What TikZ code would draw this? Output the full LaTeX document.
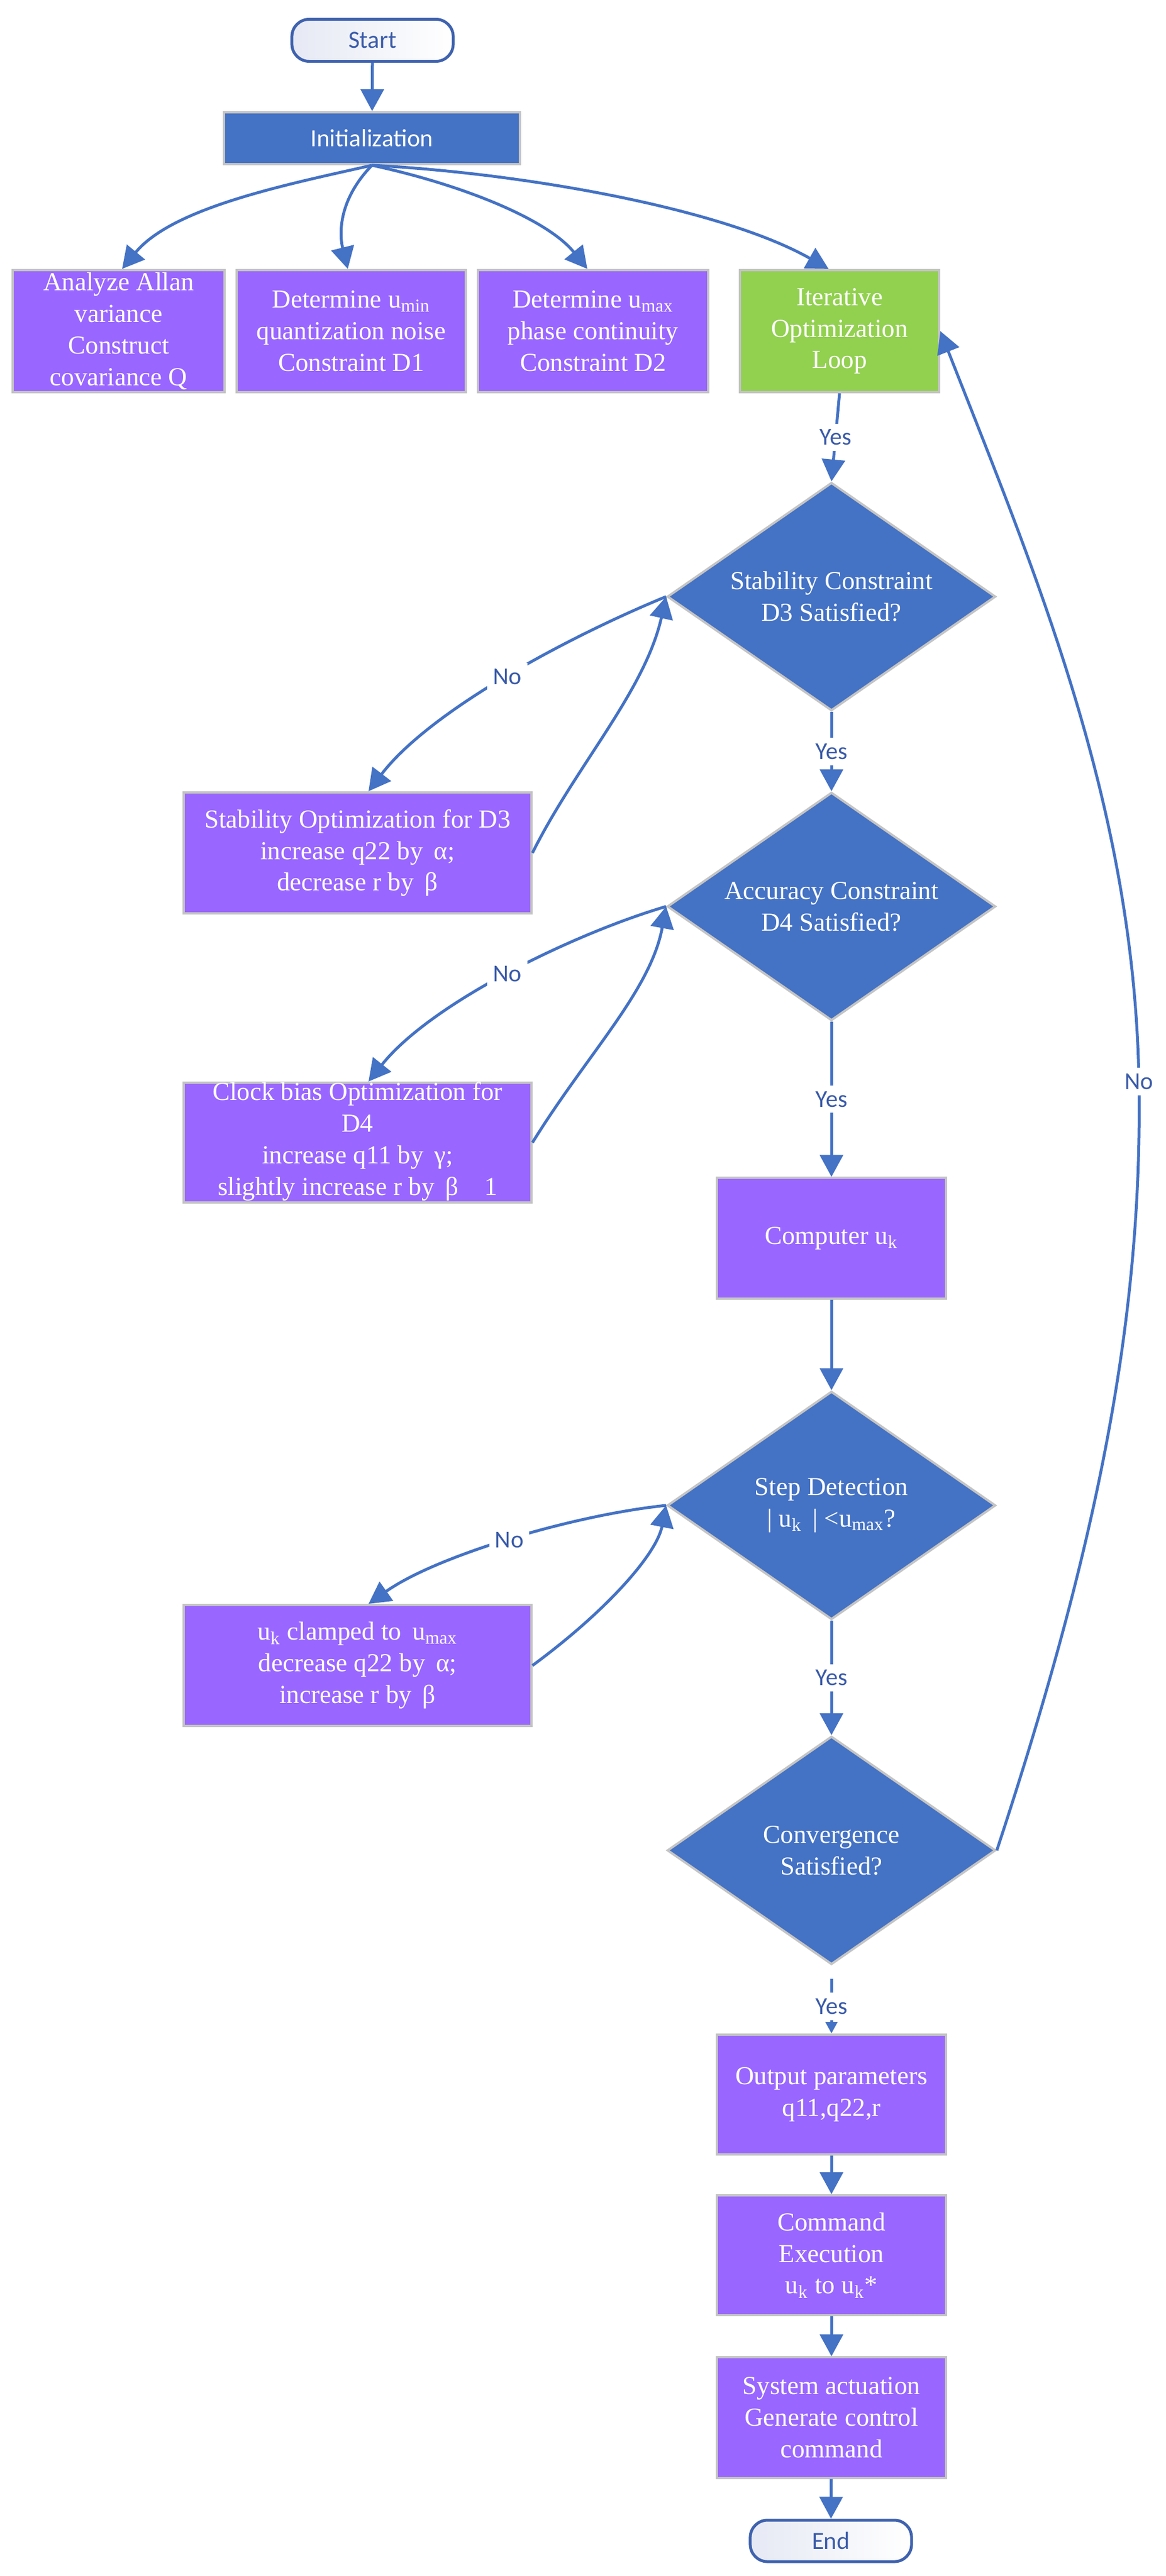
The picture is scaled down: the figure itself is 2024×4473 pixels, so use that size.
\documentclass[tikz,border=0pt]{standalone}
\usepackage{fontspec}
\setmainfont{Liberation Serif}
\newfontfamily\carlito{Carlito}
\usetikzlibrary{shapes.geometric,arrows.meta,calc}
\definecolor{cblue}{HTML}{4472C4}
\definecolor{cpurple}{HTML}{9966FF}
\definecolor{cgreen}{HTML}{92D050}
\definecolor{cgray}{HTML}{C4C4C4}
\definecolor{ctext}{HTML}{3A5BA9}
\definecolor{cstart}{HTML}{3F62AE}
\definecolor{cshade}{HTML}{E6E9F4}
\begin{document}
\begin{tikzpicture}[x=0.01cm,y=-0.01cm,
  boxfont/.style={font=\fontsize{12.8}{15.6}\selectfont},
  box/.style={rectangle, draw=cgray, line width=0.04cm, fill=cpurple, text=white, align=center, boxfont, inner sep=0pt},
  boxtext/.style={text=white, align=center, boxfont, inner sep=0pt},
  dia/.style={diamond, draw=cgray, line width=0.04cm, fill=cblue, text=white, align=center, boxfont, aspect=1.44, inner sep=0pt, minimum width=5.7cm, minimum height=3.96cm},
  term/.style={rectangle, rounded corners=0.3cm, draw=cstart, line width=0.05cm, left color=cshade, right color=white, text=ctext, font=\carlito\fontsize{12.2}{14}\selectfont, minimum width=2.8cm, minimum height=0.73cm},
  arr/.style={draw=cblue, line width=0.05cm, -{Triangle[length=0.38cm,width=0.4cm]}},
  arrsmall/.style={draw=cblue, line width=0.05cm, -{Triangle[length=0.2cm,width=0.2cm]}},
  lbl/.style={fill=white, text=ctext, font=\carlito\fontsize{12}{14}\selectfont, inner sep=0.1cm}
]
\useasboundingbox (0,0) rectangle (2024,4473);

% nodes
\node[term] (start) at (647,70) {Start};
\node[rectangle, draw=cgray, line width=0.04cm, fill=cblue, text=white, font=\carlito\fontsize{12.2}{14}\selectfont, minimum width=5.13cm, minimum height=0.9cm] (init) at (646,240) {Initialization};

\node[box, minimum width=3.67cm, minimum height=2.12cm] (b1) at (206,575) {};
\node[boxtext] (b1t) at (b1) {Analyze Allan\\variance\\Construct\\covariance Q};
\node[box, minimum width=3.97cm, minimum height=2.12cm] (b2) at (610,575) {Determine u\textsubscript{min}\\quantization noise\\Constraint D1};
\node[box, minimum width=3.99cm, minimum height=2.12cm] (b3) at (1030,575) {Determine u\textsubscript{max}\\phase continuity\\Constraint D2};
\node[box, fill=cgreen, minimum width=3.46cm, minimum height=2.12cm] (loop) at (1458,575) {Iterative\\Optimization\\Loop};

\node[dia] (d1) at (1444,1036) {Stability Constraint\\D3 Satisfied?};
\node[dia] (d2) at (1444,1574) {Accuracy Constraint\\D4 Satisfied?};
\node[box, minimum width=6.03cm, minimum height=2.1cm] (s1) at (621,1481) {Stability Optimization for D3\\increase q22 by \,α;\\decrease r by \,β};
\node[box, minimum width=6.03cm, minimum height=2.08cm] (s2) at (621,1984) {};
\node[boxtext] (s2t) at (621,1982) {Clock bias Optimization for\\D4\\increase q11 by \,γ;\\slightly increase r by \,β\quad 1};
\node[box, minimum width=3.97cm, minimum height=2.09cm] (comp) at (1444,2150) {Computer u\textsubscript{k}};
\node[dia] (d3) at (1444,2614) {Step Detection\\| u\textsubscript{k} \,| <u\textsubscript{max}?};
\node[box, minimum width=6.03cm, minimum height=2.1cm] (s3) at (621,2892) {u\textsubscript{k} clamped to \,u\textsubscript{max}\\decrease q22 by \,α;\\increase r by \,β};
\node[dia] (d4) at (1444,3213) {Convergence\\Satisfied?};
\node[box, minimum width=3.97cm, minimum height=2.08cm] (out) at (1444,3637) {Output parameters\\q11,q22,r};
\node[box, minimum width=3.97cm, minimum height=2.08cm] (cmd) at (1444,3916) {Command\\Execution\\u\textsubscript{k} to u\textsubscript{k}*};
\node[box, minimum width=3.97cm, minimum height=2.09cm] (sys) at (1444,4198) {System actuation\\Generate control\\command};
\node[term, minimum height=0.72cm] (end) at (1443,4412) {End};

% connectors
\draw[arr] (start) -- (init);
\draw[arr] (init.south) .. controls (500,320) and (300,360) .. ($(b1.north)+(6,0)$);
\draw[arr] (init.south) .. controls (585,350) and (590,410) .. ($(b2.north)+(-6,0)$);
\draw[arr] (init.south) .. controls (800,320) and (950,380) .. ($(b3.north)+(-10,0)$);
\draw[arr] (init.south) .. controls (900,300) and (1250,360) .. ($(loop.north)+(-19,0)$);

\draw[arr] (loop.south) -- node[lbl]{Yes} (d1.north);
\draw[arr] (d1.south) -- node[lbl]{Yes} (d2.north);
\draw[arr] (d2.south) -- node[lbl]{Yes} (comp.north);
\draw[arr] (comp) -- (d3);
\draw[arr] (d3.south) -- node[lbl]{Yes} (d4.north);
\draw[arrsmall, shorten <=0.23cm] (d4.south) -- node[lbl,pos=0.6]{Yes} (out.north);
\draw[arr] (out) -- (cmd);
\draw[arr] (cmd) -- (sys);
\draw[arr] (sys) -- (end);

\draw[arr] (d1.west) .. controls (1000,1100) and (750,1230) .. node[lbl,pos=0.5]{No} ($(s1.north)+(19,0)$);
\draw[arr] (s1.east) .. controls (1000,1330) and (1120,1200) .. (d1.west);
\draw[arr] (d2.west) .. controls (1000,1620) and (750,1740) .. node[lbl,pos=0.5]{No} ($(s2.north)+(19,0)$);
\draw[arr] (s2.east) .. controls (1020,1830) and (1130,1720) .. (d2.west);
\draw[arr] (d3.west) .. controls (1000,2630) and (760,2700) .. node[lbl,pos=0.5]{No} ($(s3.north)+(19,0)$);
\draw[arr] (s3.east) .. controls (1050,2800) and (1140,2700) .. (d3.west);

\coordinate (noR) at (1978,1878);
\draw[arr] (d4.east) .. controls (1900,2700) and (1985,2300) .. (noR) .. controls (1970,1400) and (1800,1000) .. (loop.east);
\node[lbl] (noRl) at (noR) {No};
\end{tikzpicture}
\end{document}
